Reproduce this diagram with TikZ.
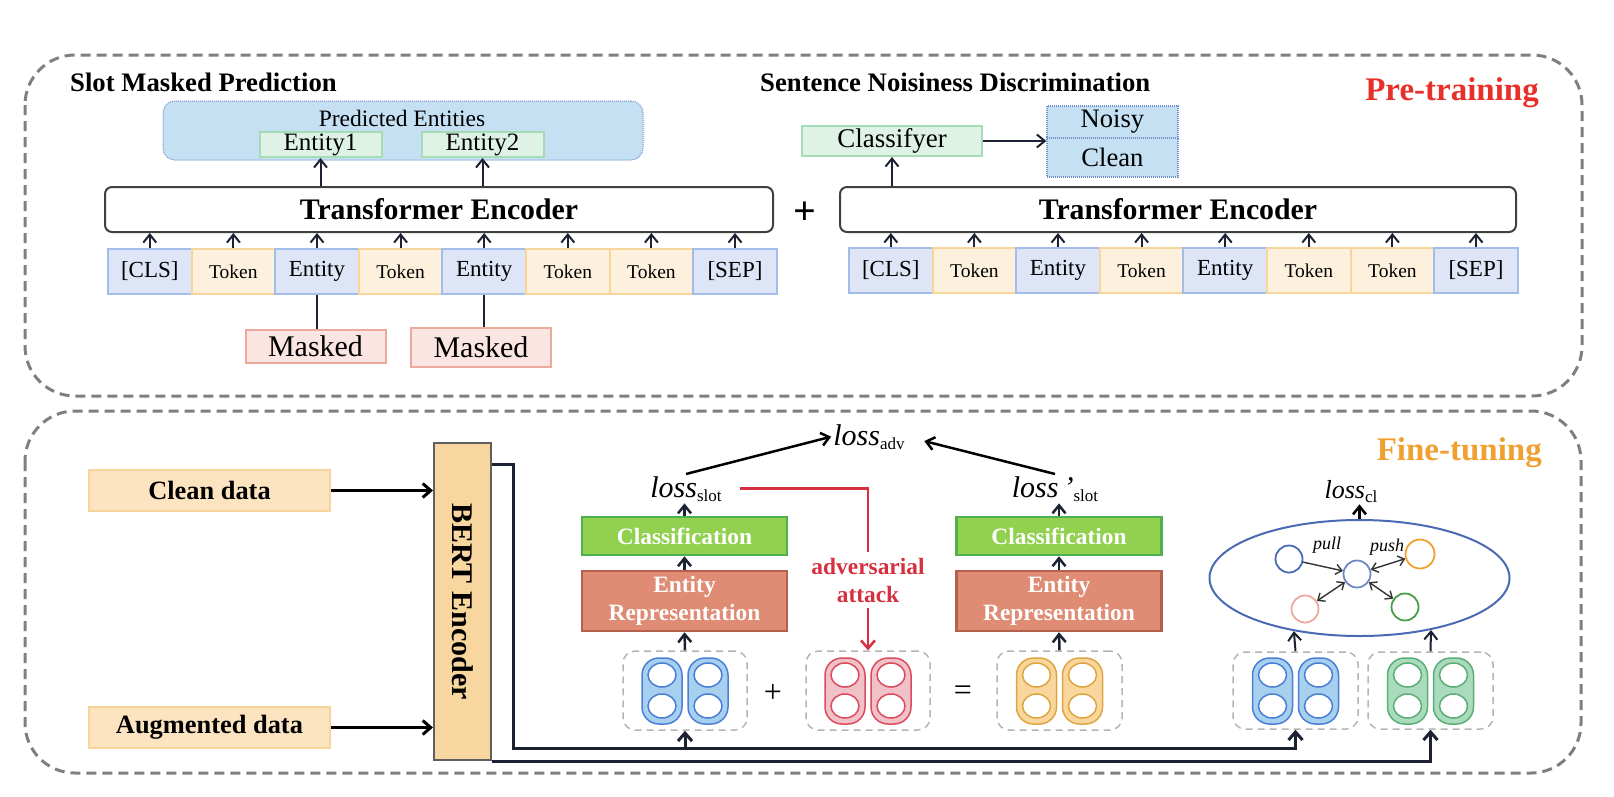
\documentclass[tikz,border=0pt]{standalone}
\usepackage{fontspec}
\setmainfont{Liberation Serif}
\usetikzlibrary{arrows.meta,shapes.geometric}

\definecolor{framegray}{HTML}{7F7F7F}
\definecolor{encgray}{HTML}{404040}
\definecolor{arrcol}{HTML}{1C2233}
\definecolor{tokfill}{HTML}{FDF1DE}
\definecolor{tokdraw}{HTML}{F8D59A}
\definecolor{entfill}{HTML}{DDE5F6}
\definecolor{entdraw}{HTML}{A3BDEA}
\definecolor{predfill}{HTML}{C4E0F2}
\definecolor{preddraw}{HTML}{6E8FCB}
\definecolor{greenfill}{HTML}{DFF2E6}
\definecolor{greendraw}{HTML}{A6DCB5}
\definecolor{maskfill}{HTML}{FAE5E2}
\definecolor{maskdraw}{HTML}{EBAA9B}
\definecolor{pretrain}{HTML}{E8302A}
\definecolor{finetune}{HTML}{F0A030}
\definecolor{datafill}{HTML}{FCE4C0}
\definecolor{datadraw}{HTML}{F9D49A}
\definecolor{bertfill}{HTML}{F8D6A0}
\definecolor{bertdraw}{HTML}{5F5F5F}
\definecolor{clsfill}{HTML}{92D050}
\definecolor{clsdraw}{HTML}{4EB04E}
\definecolor{repfill}{HTML}{E08B74}
\definecolor{repdraw}{HTML}{B5604C}
\definecolor{attack}{HTML}{D62F3F}
\definecolor{grpgray}{HTML}{B4B4B4}
\definecolor{ellblue}{HTML}{4A6AB4}
\definecolor{pillbluef}{HTML}{A6D0EE}
\definecolor{pillblued}{HTML}{4A7FD8}
\definecolor{pillredf}{HTML}{F0C2C8}
\definecolor{pillredd}{HTML}{DC4A5E}
\definecolor{pillorgf}{HTML}{F9D79C}
\definecolor{pillorgd}{HTML}{E0A540}
\definecolor{pillgrnf}{HTML}{A9DBBC}
\definecolor{pillgrnd}{HTML}{5AAE76}

\newcommand{\fsz}[1]{\fontsize{#1}{#1}\selectfont}
\newcommand{\lossterm}[2][]{\textit{loss#1}\raisebox{-4pt}{\fsz{17}#2}}
% two pills with two holes each, #1 centre x, #2 fill, #3 border
\newcommand{\pillpair}[3]{%
  \foreach \s in {-1,1} {
    \draw[fill=#2, draw=#3, line width=1.5pt, rounded corners=17pt] (#1+23*\s-20,658) rectangle (#1+23*\s+20,724);
    \draw[fill=white, draw=#3, line width=1.5pt] (#1+23*\s,675) ellipse [x radius=14pt, y radius=12pt];
    \draw[fill=white, draw=#3, line width=1.5pt] (#1+23*\s,706) ellipse [x radius=14pt, y radius=12pt];
  }}

\tikzset{
  stagebox/.style={draw=framegray, line width=3pt, dash pattern=on 10pt off 6pt, rounded corners=50pt},
  heading/.style={anchor=base west, font=\bfseries\fsz{26.7}, inner sep=0pt},
  enc/.style={draw=encgray, fill=white, line width=2pt, rounded corners=7pt, minimum width=#1, minimum height=45pt, inner sep=0pt, font=\bfseries\fsz{29.8}},
  tokbox/.style={line width=2pt, minimum width=83.6pt, minimum height=45pt, inner sep=0pt},
  tok/.style={tokbox, draw=tokdraw, fill=tokfill, font=\fsz{19.5}},
  ent/.style={tokbox, draw=entdraw, fill=entfill, font=\fsz{23}},
  entout/.style={draw=greendraw, fill=greenfill, line width=2pt, minimum width=122pt, minimum height=25pt, inner sep=0pt, font=\fsz{25}},
  maskbox/.style={draw=maskdraw, fill=maskfill, line width=2pt, minimum width=140pt, inner sep=0pt, font=\fsz{30}},
  nc/.style={draw=preddraw, fill=predfill, line width=1.2pt, dash pattern=on 1pt off 1pt, minimum width=131pt, inner sep=0pt, font=\fsz{26.6}},
  arr/.style={draw=arrcol, line width=2pt, -{Straight Barb[length=8pt,width=13pt]}},
  plain/.style={draw=arrcol, line width=2pt},
  data/.style={draw=datadraw, fill=datafill, line width=2pt, minimum width=241pt, minimum height=41pt, inner sep=0pt, font=\bfseries\fsz{26.4}},
  feed/.style={draw=arrcol, line width=3pt, -{Straight Barb[length=8pt,width=14pt]}},
  clsbox/.style={draw=clsdraw, fill=clsfill, line width=2.5pt, minimum width=205pt, minimum height=38pt, inner sep=0pt, text=white, font=\bfseries\fsz{23.4}},
  repbox/.style={draw=repdraw, fill=repfill, line width=2.5pt, minimum width=205pt, minimum height=60pt, inner sep=0pt, text=white, align=center, font=\bfseries\fontsize{23.4}{28}\selectfont},
  grp/.style={draw=grpgray, line width=1.5pt, dash pattern=on 7pt off 5pt, rounded corners=12pt, minimum width=124pt, minimum height=79pt},
  lossn/.style={anchor=base, inner sep=2pt, font=\fsz{30}},
  dot/.style={circle, line width=1.8pt, minimum size=27pt, inner sep=0pt},
  small/.style={draw=black!80, line width=1.4pt},
}

\begin{document}
\begin{tikzpicture}[x=1pt,y=-1pt]
\useasboundingbox (0,0) rectangle (1614,796);
% pre-training stage
\draw[stagebox] (25,55) rectangle (1582,396);
\node[heading] (smp) at (70,91) {Slot Masked Prediction};
\node[heading] (snd) at (760,91) {Sentence Noisiness Discrimination};
\node[anchor=base east, inner sep=0pt, text=pretrain, font=\bfseries\fsz{33}] (pre) at (1539,100) {Pre-training};

% slot masked prediction
\node[draw=preddraw, fill=predfill, line width=1pt, dash pattern=on 1pt off 1pt, rounded corners=12pt, minimum width=480pt, minimum height=59pt] (pred) at (403,130.5) {};
\node[anchor=base, inner sep=0pt, font=\fsz{23.5}] (predtxt) at (402,126) {Predicted Entities};
\node[entout] (e1) at (320.5,144.5) {Entity1};
\node[entout] (e2) at (482.5,144.5) {Entity2};
\node[enc=668pt] (encL) at (439,209.5) {Transformer Encoder};
\foreach \lab/\sty [count=\i] in {{[CLS]}/ent, Token/tok, Entity/ent, Token/tok, Entity/ent, Token/tok, Token/tok, {[SEP]}/ent}
  \node[\sty] (tl\i) at ({108+83.6*(\i-0.5)},271.5) {\lab};
\foreach \i in {1,...,8}
  \draw[arr] (tl\i.north) -- (tl\i.north |- encL.south);
\draw[arr] (e1.south |- encL.north) -- (e1.south);
\draw[arr] (e2.south |- encL.north) -- (e2.south);
\node[maskbox, minimum height=33pt] (mask1) at (315.5,346.5) {Masked};
\node[maskbox, minimum height=39pt] (mask2) at (481,347.5) {Masked};
\draw[plain] (tl3.south) -- (tl3.south |- mask1.north);
\draw[plain] (tl5.south) -- (tl5.south |- mask2.north);

\node[font=\bfseries\fsz{40}] (plus) at (805,213) {+};

% sentence noisiness discrimination
\node[enc=676pt] (encR) at (1178,209.5) {Transformer Encoder};
\foreach \lab/\sty [count=\i] in {{[CLS]}/ent, Token/tok, Entity/ent, Token/tok, Entity/ent, Token/tok, Token/tok, {[SEP]}/ent}
  \node[\sty] (tr\i) at ({849+83.6*(\i-0.5)},270.5) {\lab};
\foreach \i in {1,...,8}
  \draw[arr] (tr\i.north) -- (tr\i.north |- encR.south);
\node[draw=greendraw, fill=greenfill, line width=2pt, minimum width=180pt, minimum height=30pt, inner sep=0pt, font=\fsz{27}] (clsf) at (892,141) {Classifyer};
\node[nc, minimum height=32pt] (noisy) at (1112.5,122) {Noisy};
\node[nc, minimum height=39pt] (cleanout) at (1112.5,157.5) {Clean};
\draw[arr] (clsf.south |- encR.north) -- (clsf.south);
\draw[arr] (clsf.east) -- (clsf.east -| noisy.west);

% fine-tuning stage
\draw[stagebox] (25,411) rectangle (1581,773);
\node[anchor=base east, inner sep=0pt, text=finetune, font=\bfseries\fsz{33}] (fine) at (1542,460) {Fine-tuning};

\node[data] (cleandata) at (209.5,490.5) {Clean data};
\node[data] (augdata) at (209.5,727.5) {Augmented data};
\node[draw=bertdraw, fill=bertfill, line width=2pt, minimum width=57pt, minimum height=317pt, inner sep=0pt] (bert) at (462.5,601.5) {};
\node[rotate=-90, font=\bfseries\fsz{30}] (berttxt) at (bert.center) {BERT Encoder};
\draw[feed, draw=black] (cleandata.east) -- (cleandata.east -| bert.west);
\draw[feed, draw=black] (augdata.east) -- (augdata.east -| bert.west);

% embeddings
\node[grp] (grpB1) at (685,690.5) {};
\node[grp] (grpR) at (868,690.5) {};
\node[grp, minimum width=125pt] (grpO) at (1059.5,690.5) {};
\node[grp, minimum width=125pt, minimum height=77pt] (grpB2) at (1295.5,690.5) {};
\node[grp, minimum width=125pt, minimum height=77pt] (grpG) at (1430.5,690.5) {};
\pillpair{685}{pillbluef}{pillblued}
\pillpair{868}{pillredf}{pillredd}
\pillpair{1059.5}{pillorgf}{pillorgd}
\pillpair{1295.5}{pillbluef}{pillblued}
\pillpair{1430.5}{pillgrnf}{pillgrnd}
\node[font=\fsz{32}] (plusop) at (773,693) {+};
\node[font=\fsz{32}] (eqop) at (963,693) {=};

% bert outputs
\coordinate (bertout) at (bert.east |- 0,464);
\coordinate (turn) at (513,748);
\draw[feed] (bertout) -| (turn) -| (grpB2.south);
\draw[feed] (grpB1.south |- turn) -- (grpB1.south);
\draw[feed] (bert.south east) -| (grpG.south);

% slot losses
\node[clsbox] (clsL) at (684.5,536) {Classification};
\node[repbox] (repL) at (684.5,601) {Entity\\Representation};
\node[clsbox] (clsR) at (1059,536) {Classification};
\node[repbox] (repR) at (1059,601) {Entity\\Representation};
\node[lossn] (lslot) at (686,497) {\lossterm{slot}};
\node[lossn] (lslotR) at (1055,497) {\lossterm[\,’]{slot}};
\node[lossn] (ladv) at (869,445) {\lossterm{adv}};
\draw[arr, line width=2.5pt] (grpB1.north) -- (repL.south);
\draw[arr, line width=2.5pt] (repL.north) -- (clsL.south);
\draw[arr, line width=2.5pt] (clsL.north) -- (clsL.north |- lslot.south);
\draw[arr, line width=2.5pt] (grpO.north) -- (repR.south);
\draw[arr, line width=2.5pt] (repR.north) -- (clsR.south);
\draw[arr, line width=2.5pt] (clsR.north) -- (clsR.north |- lslotR.south);
\draw[arr, draw=black, line width=2.5pt] (lslot.north) -- (ladv.west);
\draw[arr, draw=black, line width=2.5pt, shorten >=18pt] (lslotR.north) -- (ladv.east);

% adversarial attack
\node[inner sep=6pt, text=attack, align=center, font=\bfseries\fontsize{23.4}{28}\selectfont] (adv) at (868,580) {adversarial\\attack};
\draw[draw=attack, line width=2.5pt] ([xshift=16pt]lslot.east) -| (adv.north);
\draw[draw=attack, line width=2.5pt, -{Straight Barb[length=8pt,width=14pt]}] (adv.south) -- (grpR.north);

% contrastive loss
\node[ellipse, draw=ellblue, line width=2pt, minimum width=300pt, minimum height=116pt, inner sep=0pt] (cl) at (1359.5,578) {};
\node[lossn, font=\fsz{26}] (lcl) at (1351,498) {\lossterm{cl}};
\draw[arr, draw=black, line width=2.5pt] (cl.north) -- (cl.north |- lcl.south);
\node[dot, draw=ellblue] (cb) at (1289,559) {};
\node[dot, draw=ellblue!80] (cc) at (1357,574) {};
\node[dot, draw=finetune, minimum size=29pt] (co) at (1420,554) {};
\node[dot, draw=maskdraw] (cp) at (1305,609) {};
\node[dot, draw=clsdraw!90!black] (cg) at (1405,607) {};
\draw[small, -{Straight Barb[length=6pt,width=10pt]}] (cb) -- (cc);
\draw[small, {Straight Barb[length=6pt,width=10pt]}-{Straight Barb[length=6pt,width=10pt]}] (cc) -- (co);
\draw[small, {Straight Barb[length=6pt,width=10pt]}-{Straight Barb[length=6pt,width=10pt]}] (cc) -- (cp);
\draw[small, {Straight Barb[length=6pt,width=10pt]}-{Straight Barb[length=6pt,width=10pt]}] (cc) -- (cg);
\node[font=\itshape\fsz{18}] (pull) at (1327,545) {pull};
\node[font=\itshape\fsz{18}] (push) at (1387,547) {push};
\draw[arr] (grpB2.north) -- (cl.219.4);
\draw[arr] (grpG.north) -- (cl.324.3);
\end{tikzpicture}
\end{document}
